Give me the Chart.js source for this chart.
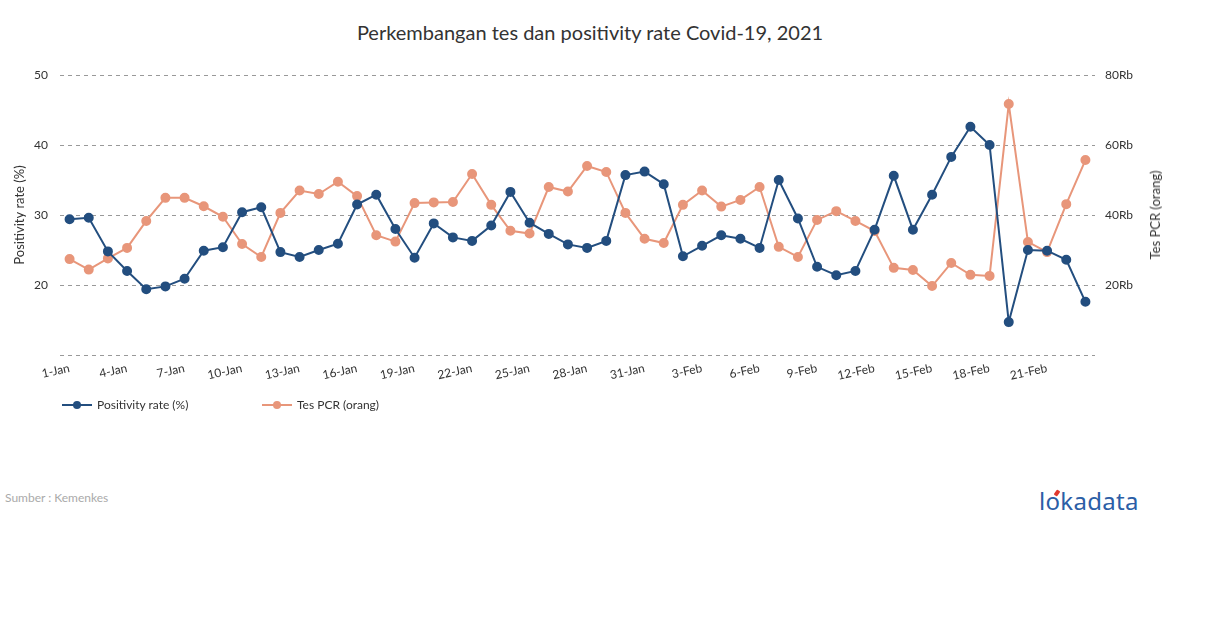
<!DOCTYPE html>
<html>
<head>
<meta charset="utf-8">
<script src="https://cdn.jsdelivr.net/npm/chart.js@4"></script>
<style>
  html, body { margin: 0; padding: 0; background: #fff; }
  body { width: 1210px; height: 628px; position: relative; overflow: hidden; font-family: Lato, "Noto Sans", sans-serif; }
  #wrap { position: absolute; left: 0; top: 0; width: 1210px; height: 400px; }
  #title { position: absolute; top: 20px; left: 0; width: 1180px; text-align: center; font-size: 20px; color: #333; }
  #rtitle { position: absolute; left: 1155px; top: 215px; width: 0; height: 0; }
  #rtitle span { position: absolute; transform: translate(-50%, -50%) rotate(-90deg); white-space: nowrap; font-size: 13px; color: #333; }
  .leg { position: absolute; top: 397px; font-size: 12px; color: #333; display: flex; align-items: center; }
  .leg svg { margin-right: 5px; }
  #src { position: absolute; left: 5px; top: 490px; font-size: 12px; color: #aaa; }
  #logo { position: absolute; left: 1039px; top: 484px; font-size: 24px; color: #2b5ea6; letter-spacing: 0.3px; font-family: "Noto Sans", Lato, sans-serif; }
  #logo .o { position: relative; }
  #logo .o::after { content: ""; position: absolute; left: 9px; top: 6px; width: 4px; height: 6px; background: #e03a30; transform: rotate(35deg); border-radius: 1px; }
</style>
</head>
<body>
<div id="title">Perkembangan tes dan positivity rate Covid-19, 2021</div>
<div id="wrap"><canvas id="c" width="1210" height="400"></canvas></div>
<div id="rtitle"><span>Tes PCR (orang)</span></div>
<div class="leg" style="left:62px;"><svg width="30" height="10"><line x1="0" y1="5" x2="30" y2="5" stroke="#234e7f" stroke-width="2"/><circle cx="15" cy="5" r="4" fill="#234e7f"/></svg>Positivity rate (%)</div>
<div class="leg" style="left:262px;"><svg width="30" height="10"><line x1="0" y1="5" x2="30" y2="5" stroke="#e8967a" stroke-width="2"/><circle cx="15" cy="5" r="4" fill="#e8967a"/></svg>Tes PCR (orang)</div>
<div id="src">Sumber : Kemenkes</div>
<div id="logo">l<span class="o">o</span>kadata</div>
<script>
const categories = [
  "1-Jan","2-Jan","3-Jan","4-Jan","5-Jan","6-Jan","7-Jan","8-Jan","9-Jan","10-Jan",
  "11-Jan","12-Jan","13-Jan","14-Jan","15-Jan","16-Jan","17-Jan","18-Jan","19-Jan","20-Jan",
  "21-Jan","22-Jan","23-Jan","24-Jan","25-Jan","26-Jan","27-Jan","28-Jan","29-Jan","30-Jan",
  "31-Jan","1-Feb","2-Feb","3-Feb","4-Feb","5-Feb","6-Feb","7-Feb","8-Feb","9-Feb",
  "10-Feb","11-Feb","12-Feb","13-Feb","14-Feb","15-Feb","16-Feb","17-Feb","18-Feb","19-Feb",
  "20-Feb","21-Feb","22-Feb","23-Feb"
];
const positivityRate = [
  29.4,29.6,24.8,22.0,19.4,19.8,20.9,24.9,25.4,30.4,
  31.1,24.7,24.0,25.0,25.9,31.5,32.9,28.0,23.9,28.8,
  26.8,26.3,28.5,33.3,28.9,27.3,25.8,25.3,26.3,35.7,
  36.2,34.4,24.1,25.6,27.1,26.6,25.3,35.0,29.5,22.6,
  21.4,22.0,27.9,35.6,27.9,32.9,38.3,42.6,40.0,14.7,
  25.0,24.9,23.6,17.6
];
const tesPCR = [
  27400,24400,27600,30600,38300,44900,44900,42500,39500,31700,
  28000,40600,47000,46000,49500,45400,34200,32400,43400,43600,
  43700,51700,42900,35500,34700,48000,46700,54000,52300,40600,
  33200,32000,42900,47000,42400,44300,48000,30900,28000,38600,
  41100,38300,35400,24900,24300,19700,26300,22900,22600,71700,
  32300,29400,43100,55700
];
const leftTicks = [10,20,30,40,50];
const rightTicks = [0,20000,40000,60000,80000];

const BLUE = "#234e7f", ORANGE = "#e8967a";
const tickFont = { family: "Lato", size: 12 };

new Chart(document.getElementById("c"), {
  type: "line",
  data: {
    labels: categories,
    datasets: [
      { label: "Positivity rate (%)", data: positivityRate, yAxisID: "y", borderColor: BLUE, backgroundColor: BLUE,
        borderWidth: 2, pointRadius: 4, pointHoverRadius: 4, tension: 0 },
      { label: "Tes PCR (orang)", data: tesPCR, yAxisID: "y1", borderColor: ORANGE, backgroundColor: ORANGE,
        borderWidth: 2, pointRadius: 4, pointHoverRadius: 4, tension: 0 }
    ]
  },
  options: {
    responsive: false,
    animation: false,
    layout: { padding: { left: 8, right: 43, top: 75, bottom: 0 } },
    plugins: { legend: { display: false }, title: { display: false }, tooltip: { enabled: false } },
    scales: {
      x: {
        offset: true,
        grid: { display: false, drawTicks: false },
        border: { display: false },
        ticks: {
          autoSkip: false, minRotation: 12, maxRotation: 12, color: "#333", font: tickFont, padding: 6,
          callback: function(v, i) { return i % 3 === 0 ? categories[i] : ""; }
        },
        afterFit: s => { s.height = 45; }
      },
      y: {
        position: "left", min: 10, max: 50,
        afterBuildTicks: s => { s.ticks = leftTicks.map(v => ({ value: v })); },
        grid: { color: "#999", drawTicks: false, lineWidth: 1 },
        border: { display: false, dash: [4, 4] },
        ticks: { color: "#333", font: tickFont, padding: 12, callback: v => v === 10 ? "" : v },
        title: { display: true, text: "Positivity rate (%)", color: "#333", font: { family: "Lato", size: 13 } },
        afterFit: s => { s.width = 52; }
      },
      y1: {
        position: "right", min: 0, max: 80000,
        afterBuildTicks: s => { s.ticks = rightTicks.map(v => ({ value: v })); },
        grid: { display: false, drawTicks: false },
        border: { display: false },
        ticks: { color: "#333", font: tickFont, padding: 10, callback: v => v === 0 ? "" : (v / 1000) + "Rb" },
        title: { display: false },
        afterFit: s => { s.width = 72; }
      }
    }
  }
});
</script>
</body>
</html>
